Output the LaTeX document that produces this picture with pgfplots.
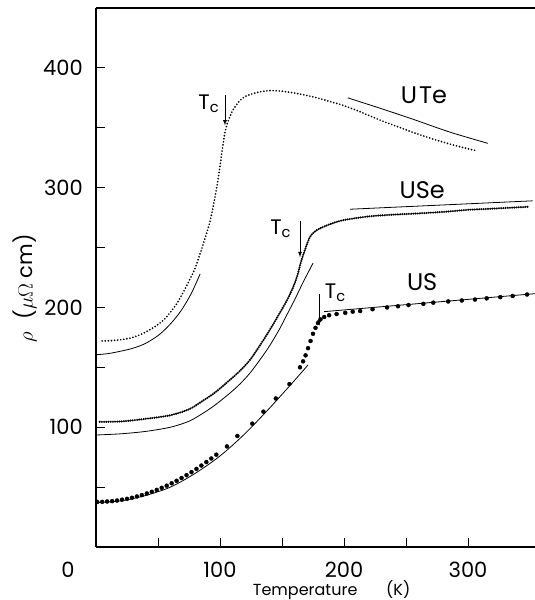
\documentclass[border=0pt]{standalone}
\usepackage{fontspec}
\setmainfont{Poppins}
\usepackage{pgfplots}
\pgfplotsset{compat=1.18}

\begin{document}
\begin{tikzpicture}
\begin{axis}[
  width=439pt, height=539pt, scale only axis,
  xmin=0, xmax=354, ymin=0, ymax=450,
  axis x line*=box, axis y line*=left,
  axis line style={line width=1.1pt},
  xtick={50,100,150,200,250,300},
  xticklabels={,100,,200,,300},
  ytick={50,100,150,200,250,300,350,400},
  yticklabels={,100,,200,,300,,400},
  xtick pos=bottom, ytick pos=left,
  tick align=inside, major tick length=9pt,
  tick style={line width=1pt, black},
  /pgf/number format/assume math mode=true,
  ticklabel style={font=\fontsize{21}{23}\selectfont, inner sep=0pt},
  xticklabel style={anchor=center, yshift=-23pt},
  yticklabel style={anchor=east, xshift=-13pt},
  xlabel={Temperature\hspace{1.8em}(K)},
  xlabel style={font=\fontsize{16}{18}\selectfont, at={(axis cs:190,0)}, anchor=center, yshift=-43pt},
  ylabel={$\rho$\hspace{0.6em}($\mu\Omega$ cm)},
  ylabel style={font=\fontsize{21}{23}\selectfont, at={(rel axis cs:-0.162,0.48)}, anchor=center},
  clip mode=individual,
]
% UTe data
\addplot[black, line width=1.9pt, line cap=round, dash pattern=on 0pt off 3.1pt, smooth] coordinates {
 (5,172) (12,172.3) (20,173) (28,174.5) (35,177) (42,180.5) (49,185) (55,190)
 (60,196) (65,203) (70,212) (75,222) (80,233) (84,245) (88,258) (92,272)
 (95,287) (98,304) (100,318) (102,333) (104,346) (106,354) (110,364) (115,371.5)
 (120,376) (130,379.5) (140,381) (150,380.5) (160,379) (170,377) (180,374.5)
 (190,371.5) (200,368.5) (215,362.5) (230,356) (243,351) (256,346) (269,341.5)
 (285,336.5) (300,332.5) (306,331)
};
% UTe fits
\addplot[black, line width=0.8pt, smooth] coordinates {
 (0,160.5) (10,161.5) (20,163.5) (30,166) (40,170) (50,176.5) (57,183)
 (64,191) (70,199.5) (77,212) (84,228)
};
\addplot[black, line width=0.8pt, smooth] coordinates {
 (203,375) (230,366) (256,357) (285,346.5) (316,337)
};
% USe data
\addplot[black, line width=2.3pt, line cap=round, dash pattern=on 0pt off 2.2pt, smooth] coordinates {
 (3,104.5) (20,104.8) (40,107) (60,110) (75,115) (86,122) (96,129) (108,139.5)
 (116,147) (124,156) (132,168) (140,181) (148,195) (154,206) (159,217)
 (162.5,227) (164.5,235) (166.5,242) (168.5,248) (170.5,254) (172.6,259)
 (176,263) (180.6,266) (190,270) (200,273) (220,276) (240,277.5) (260,278.5)
 (283,280) (300,281.5) (320,282.5) (348,284)
};
% USe fits
\addplot[black, line width=0.8pt, smooth] coordinates {
 (0,93.5) (20,94.5) (40,96.5) (60,100) (75,105) (86,111.5) (96,118.5)
 (108,128.5) (116,136) (124,145) (132,156) (140,168) (148,182) (154,194)
 (160,206) (167,221) (175,237)
};
\addplot[black, line width=0.8pt] coordinates {(205,282) (352,289)};
% US data
\addplot[black, only marks, mark=*, mark size=2pt] coordinates {
 (1,37.6) (5,37.7) (9,38.0) (13,38.3) (17,38.8) (21,39.5) (25,40.2) (29,41.1)
 (33,42.2) (37,43.3) (41,44.7) (45,46.1) (49,47.7) (53,49.4) (57,51.2) (61,53.2)
 (65,55.3) (69,57.6) (73,60.0) (77,62.5) (81,65.2) (85,68.0) (89,70.9) (93,73.9)
 (97,77.1) (105.6,84) (114,92.7) (126,103) (135,113) (145,124) (156,136)
 (164.5,150) (167,155) (169,160) (171,166) (173,172) (175,178) (177,183)
 (179,187) (181,190) (184,192) (188,193.5) (194,194.5) (201,195.5) (207,196.5)
 (213,197) (223,198.5) (234.7,200) (243.5,201) (252,202) (264,203) (272,204)
 (284,205) (295,205.8) (305.6,206.6) (315,207.6) (326,208.6) (336,209.6)
 (347.6,210.8)
};
% US fits
\addplot[black, line width=0.8pt, smooth] coordinates {
 (0,37) (20,38.5) (40,43) (60,50) (80,61.5) (100,76) (120,94.5) (140,116)
 (160,139) (171,152)
};
\addplot[black, line width=0.8pt] coordinates {(184,196.5) (354,211.5)};

% labels
\node[font=\fontsize{24}{26}\selectfont] at (axis cs:264.5,377.5) {U\kern2pt Te};
\node[font=\fontsize{24}{26}\selectfont] at (axis cs:263,298) {USe};
\node[font=\fontsize{24}{26}\selectfont] at (axis cs:263,221) {US};
\node[font=\fontsize{21}{23}\selectfont] at (axis cs:91,370) {T$_{\mathrm{c}}$};
\node[font=\fontsize{21}{23}\selectfont] at (axis cs:149,265.5) {T$_{\mathrm{c}}$};
\node[font=\fontsize{21}{23}\selectfont] at (axis cs:193,212) {T$_{\mathrm{c}}$};
\draw[-latex, line width=0.8pt] (axis cs:104,377) -- (axis cs:104,352);
\draw[-latex, line width=0.8pt] (axis cs:164.5,272) -- (axis cs:164.5,242);
\draw[-latex, line width=0.8pt] (axis cs:180,211) -- (axis cs:180,185);
\end{axis}
\node[font=\fontsize{21}{23}\selectfont, inner sep=0pt] at ([xshift=-28pt,yshift=-23pt]current axis.south west) {0};
\pgfresetboundingbox
\path ([xshift=-96pt,yshift=-53pt]current axis.south west) rectangle ++(535pt,600pt);
\end{tikzpicture}
\end{document}
